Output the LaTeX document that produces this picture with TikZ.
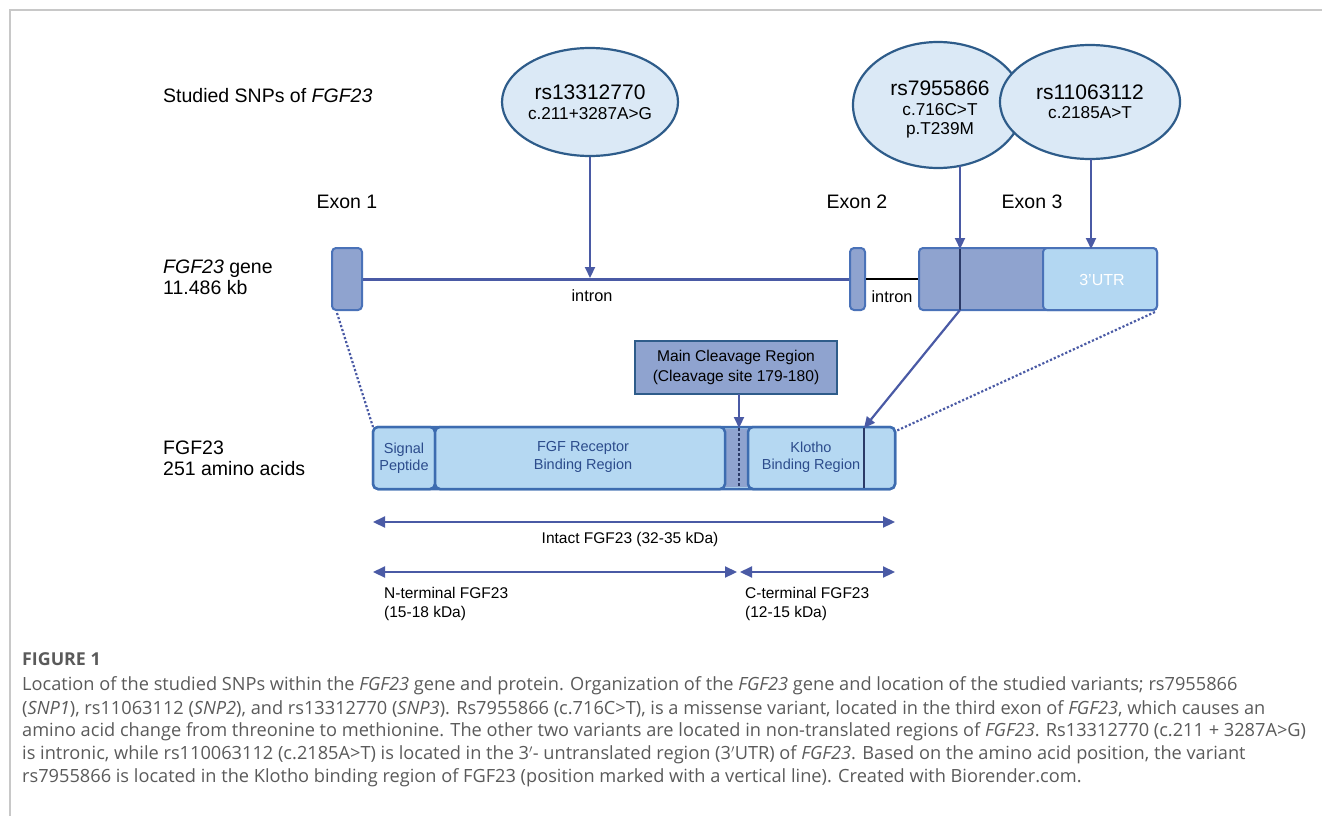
\documentclass[tikz,border=0pt]{standalone}
\usepackage{fontspec}
\setmainfont{Liberation Sans}
\newfontfamily\capfont{Open Sans}
\usetikzlibrary{arrows.meta,shapes.geometric}
\definecolor{arrowblue}{HTML}{4A5AA5}
\definecolor{ellline}{HTML}{2E5C8A}
\definecolor{ellfill}{HTML}{DBE9F6}
\definecolor{exonfill}{HTML}{8FA3CF}
\definecolor{exonline}{HTML}{4A72B8}
\definecolor{utrfill}{HTML}{B3D7F2}
\definecolor{protfill}{HTML}{B5D8F2}
\definecolor{protline}{HTML}{3D6CB0}
\definecolor{markercol}{HTML}{2B3A67}
\definecolor{prottext}{HTML}{2C4C8C}
\definecolor{capgray}{HTML}{5A5A5A}
\definecolor{framegray}{HTML}{C8C8C8}
\begin{document}
\begin{tikzpicture}[x=1pt,y=-1pt,
  lbl/.style={font=\fontsize{19.5}{21}\selectfont, text=black, inner sep=0, align=left},
  exlbl/.style={font=\fontsize{19.5}{21}\selectfont, text=black, inner sep=0},
  snp/.style={ellipse, draw=ellline, fill=ellfill, line width=2.2, inner sep=0},
  snptitle/.style={font=\fontsize{21}{24}\selectfont, inner sep=0},
  snpsub/.style={font=\fontsize{17.2}{20}\selectfont, inner sep=0},
  exonbox/.style={rectangle, rounded corners=4, draw=exonline, fill=exonfill, line width=2, inner sep=0},
  protbox/.style={rectangle, rounded corners=5, draw=protline, fill=protfill, line width=2.5, inner sep=0, minimum height=62},
  prottxt/.style={font=\fontsize{14.5}{17.5}\selectfont, text=prottext, align=center, inner sep=0},
  arr/.style={draw=arrowblue, line width=2.2, -{Triangle[length=11,width=10]}},
  darr/.style={draw=arrowblue, line width=2.2, {Triangle[length=12,width=11]}-{Triangle[length=12,width=11]}},
  dotline/.style={draw=arrowblue, line width=2.2, dotted},
  markline/.style={draw=markercol, line width=2},
  small/.style={font=\fontsize{15.5}{19}\selectfont, inner sep=0, align=left},
  capline/.style={font=\capfont\fontsize{18.2}{20}\selectfont, text=capgray, anchor=west, inner sep=0}
]
\useasboundingbox (0,0) rectangle (1322,816);
% frame
\draw[framegray, line width=1.5] (10,816) -- (10,10) -- (1322,10);

% left labels
\node[lbl, anchor=west] (title) at (163,96) {Studied SNPs of \textit{FGF23}};
\node[lbl, anchor=west] (genelbl) at (163,277) {\textit{FGF23} gene\\11.486 kb};
\node[lbl, anchor=west] (protlbl) at (163,458) {FGF23\\251 amino acids};

% exon labels
\node[exlbl] (ex1lbl) at (347,202) {Exon 1};
\node[exlbl] (ex2lbl) at (857,202) {Exon 2};
\node[exlbl] (ex3lbl) at (1032,202) {Exon 3};

% gene
\node[exonbox, minimum width=30, minimum height=62] (exon1) at (347,279) {};
\node[exonbox, minimum width=15, minimum height=62] (exon2) at (857.5,279) {};
\node[exonbox, minimum width=238, minimum height=62] (exon3) at (1038,279) {};
\node[exonbox, fill=utrfill, minimum width=114, minimum height=62] (utr) at (1100,279) {};
\node[font=\fontsize{16}{19}\selectfont, text=white, inner sep=0] (utrlbl) at (1102,280) {3'UTR};
\draw[arrowblue, line width=3] (exon1.east) -- (exon2.west);
\draw[black, line width=1.3] (exon2.east) -- (exon3.west);
\node[font=\fontsize{16.3}{19}\selectfont, inner sep=0] (intron1) at (592,296) {intron};
\node[font=\fontsize{16.3}{19}\selectfont, inner sep=0] (intron2) at (892,297) {intron};
\coordinate (m3top) at (960,249);
\coordinate (m3bot) at (960,310);
\draw[markline] (m3top) -- (m3bot);

% SNP ellipses
\node[snp, minimum width=176, minimum height=108] (snp3) at (590,102) {};
\node[snptitle] (snp3a) at (590,92) {rs13312770};
\node[snpsub] (snp3b) at (590,114) {c.211+3287A>G};
\node[snp, minimum width=170, minimum height=126] (snp1) at (938,105) {};
\node[snp, minimum width=180, minimum height=114] (snp2) at (1090,102) {};
\node[snptitle] (snp1a) at (940,88) {rs7955866};
\node[snpsub] (snp1b) at (940,110) {c.716C>T};
\node[snpsub] (snp1c) at (940,130) {p.T239M};
\node[snptitle] (snp2a) at (1090,92) {rs11063112};
\node[snpsub] (snp2b) at (1090,113) {c.2185A>T};

% SNP arrows
\coordinate (t3) at (590,278);
\draw[arr] (snp3.south) -- (t3);
\coordinate (s1) at (960,166);
\draw[arr] (s1) -- (m3top);
\coordinate (s2) at (1091,159);
\coordinate (t2) at (1091,249);
\draw[arr] (s2) -- (t2);

% protein
\node[protbox, minimum width=522] (prot) at (634,458) {};
\fill[exonfill] (725,429) rectangle (748,487);
\node[protbox, minimum width=62] (sig) at (404,458) {};
\node[protbox, minimum width=290] (fgfr) at (580,458) {};
\node[protbox, minimum width=147] (klotho) at (821.5,458) {};
\node[prottxt] (sigtxt) at (404,458) {Signal\\Peptide};
\node[prottxt] (fgfrtxt) at (583,457) {FGF Receptor\\Binding Region};
\node[prottxt] (klothotxt) at (811,457) {Klotho\\Binding Region};
\coordinate (cltop) at (739,428);
\coordinate (clbot) at (739,488);
\draw[markercol, line width=2.5, dash pattern=on 2.5 off 2.5] (cltop) -- (clbot);
\coordinate (kmtop) at (864,428);
\coordinate (kmbot) at (864,488);
\draw[markline] (kmtop) -- (kmbot);

% cleavage box
\node[rectangle, draw=ellline, fill=exonfill, line width=2, minimum width=202, minimum height=53, inner sep=0,
  font=\fontsize{15.6}{20}\selectfont, align=center] (cleave) at (736,367.5) {Main Cleavage Region\\(Cleavage site 179-180)};
\coordinate (clsrc) at (739,394);
\draw[arr] (clsrc) -- (cltop);

% exon3 -> klotho marker
\draw[arr] (m3bot) -- (kmtop);

% dotted links
\coordinate (e1bl) at (337,313);
\coordinate (p1tl) at (373,427);
\draw[dotline] (e1bl) -- (p1tl);
\coordinate (e3br) at (1155,312);
\coordinate (p1tr) at (896,431);
\draw[dotline] (e3br) -- (p1tr);

% size arrows
\coordinate (iL) at (373,522);
\coordinate (iR) at (895,522);
\draw[darr] (iL) -- (iR);
\node[font=\fontsize{15.5}{19}\selectfont, inner sep=0] (intact) at (630,539) {Intact FGF23 (32-35 kDa)};
\coordinate (nL) at (373,572);
\coordinate (nR) at (737,572);
\draw[darr] (nL) -- (nR);
\coordinate (cL) at (740,572);
\coordinate (cR) at (895,572);
\draw[darr] (cL) -- (cR);
\node[small, anchor=west] (nterm) at (384,604) {N-terminal FGF23\\(15-18 kDa)};
\node[small, anchor=west] (cterm) at (745,604) {C-terminal FGF23\\(12-15 kDa)};

% caption
\node[capline, font=\capfont\bfseries\fontsize{17.8}{19}\selectfont] (fig) at (22,659) {FIGURE 1};
\node[capline] (c1) at (22,686) {Location of the studied SNPs within the \textit{FGF23} gene and protein. Organization of the \textit{FGF23} gene and location of the studied variants; rs7955866};
\node[capline] (c2) at (22,709) {(\textit{SNP1}), rs11063112 (\textit{SNP2}), and rs13312770 (\textit{SNP3}). Rs7955866 (c.716C>T), is a missense variant, located in the third exon of \textit{FGF23}, which causes an};
\node[capline] (c3) at (22,732) {amino acid change from threonine to methionine. The other two variants are located in non-translated regions of \textit{FGF23}. Rs13312770 (c.211 + 3287A>G)};
\node[capline] (c4) at (22,755) {is intronic, while rs110063112 (c.2185A>T) is located in the 3$'$- untranslated region (3$'$UTR) of \textit{FGF23}. Based on the amino acid position, the variant};
\node[capline] (c5) at (22,778) {rs7955866 is located in the Klotho binding region of FGF23 (position marked with a vertical line). Created with Biorender.com.};
\end{tikzpicture}
\end{document}
